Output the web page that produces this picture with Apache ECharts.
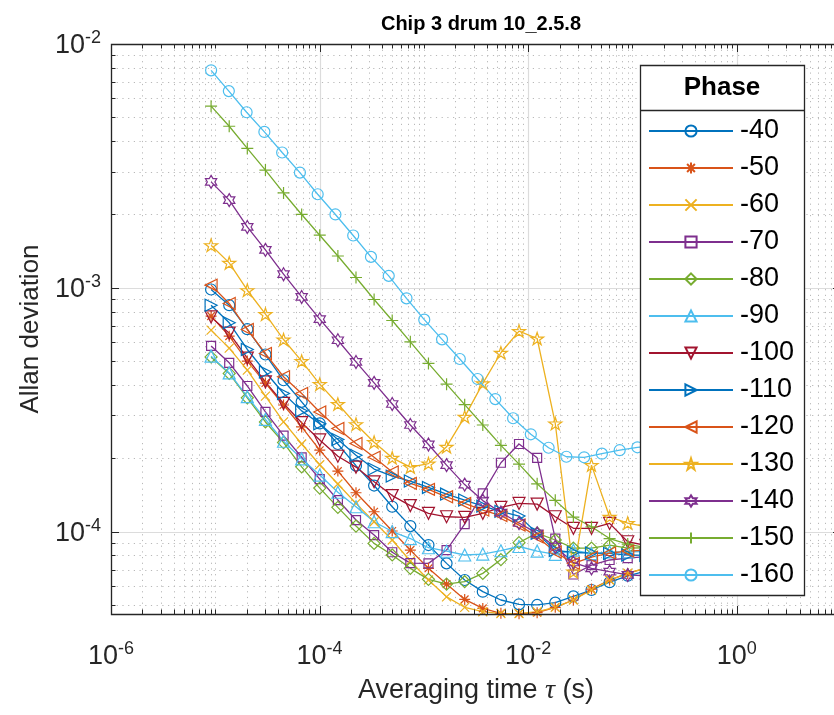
<!DOCTYPE html>
<html><head><meta charset="utf-8">
<script src="https://cdn.jsdelivr.net/npm/echarts@6/dist/echarts.min.js"></script>
<style>html,body{margin:0;padding:0;background:#fff}#c{width:834px;height:715px}</style>
</head><body><div id="c"></div>
<script>
// ---------------- data ----------------
const phases = ['-40','-50','-60','-70','-80','-90','-100','-110','-120','-130','-140','-150','-160'];

// averaging times (s)
const tauA = [9.115e-6,1.349e-5,1.997e-5,2.956e-5,4.377e-5,6.478e-5,9.59e-5,1.419e-4,2.101e-4,3.11e-4,4.605e-4,6.816e-4,1.009e-3,1.494e-3,2.211e-3,3.273e-3,4.844e-3,7.171e-3,1.061e-2,1.571e-2,2.326e-2,3.443e-2,5.096e-2,7.545e-2,0.1117,0.1653,0.2447];
const tauB = [9.115e-6,1.36e-5,2.028e-5,3.026e-5,4.513e-5,6.733e-5,1.004e-4,1.498e-4,2.235e-4,3.334e-4,4.973e-4,7.419e-4,1.107e-3,1.651e-3,2.463e-3,3.674e-3,5.481e-3,8.177e-3,1.22e-2,1.82e-2,2.715e-2,4.05e-2,6.041e-2,9.012e-2,0.1344];

const adev40  = [9.85e-4,8.49e-4,6.77e-4,5.33e-4,4.18e-4,3.41e-4,2.78e-4,2.29e-4,1.867e-4,1.547e-4,1.266e-4,1.055e-4,8.82e-5,7.42e-5,6.34e-5,5.68e-5,5.25e-5,5.04e-5,5.01e-5,5.12e-5,5.43e-5,5.77e-5,6.21e-5,6.6e-5,6.9e-5];
const adev50  = [7.66e-4,6.34e-4,5.01e-4,4.07e-4,3.31e-4,2.69e-4,2.16e-4,1.773e-4,1.445e-4,1.208e-4,1.007e-4,8.41e-5,7.08e-5,6.1e-5,5.28e-5,4.85e-5,4.63e-5,4.61e-5,4.66e-5,4.9e-5,5.25e-5,5.82e-5,6.34e-5,6.75e-5,7.1e-5];
const adev60  = [6.71e-4,5.66e-4,4.6e-4,3.6e-4,2.82e-4,2.29e-4,1.882e-4,1.569e-4,1.307e-4,1.099e-4,9.25e-5,7.59e-5,6.34e-5,5.41e-5,4.9e-5,4.7e-5,4.62e-5,4.62e-5,4.7e-5,4.9e-5,5.25e-5,5.77e-5,6.34e-5,6.77e-5,7.1e-5];
const adev70  = [5.78e-4,4.93e-4,3.96e-4,3.1e-4,2.48e-4,2.02e-4,1.644e-4,1.349e-4,1.117e-4,9.69e-5,8.24e-5,7.44e-5,7.42e-5,8.41e-5,1.075e-4,1.437e-4,1.918e-4,2.29e-4,2.01e-4,9.38e-5,6.68e-5,7.3e-5,7.66e-5,7.8e-5,7.9e-5];
const adev80  = [5.21e-4,4.46e-4,3.54e-4,2.82e-4,2.32e-4,1.846e-4,1.51e-4,1.259e-4,1.055e-4,8.96e-5,8.03e-5,7.08e-5,6.38e-5,6.1e-5,6.24e-5,6.75e-5,7.69e-5,9.02e-5,9.88e-5,9.25e-5,8.57e-5,8.57e-5,8.82e-5,8.57e-5,8.6e-5];
const adev90  = [5.25e-4,4.48e-4,3.58e-4,2.89e-4,2.35e-4,1.99e-4,1.708e-4,1.452e-4,1.266e-4,1.099e-4,1.002e-4,9.38e-5,8.6e-5,8.32e-5,8.03e-5,8.1e-5,8.36e-5,8.7e-5,8.33e-5,8.08e-5,8.4e-5,8.13e-5,8.27e-5,8.27e-5,8.3e-5];
const adev100 = [7.6e-4,6.52e-4,5.15e-4,4.12e-4,3.36e-4,2.8e-4,2.38e-4,2.04e-4,1.841e-4,1.603e-4,1.407e-4,1.28e-4,1.19e-4,1.152e-4,1.146e-4,1.19e-4,1.259e-4,1.307e-4,1.298e-4,1.152e-4,1.033e-4,1.033e-4,1.082e-4,9.1e-5,8.8e-5];
const adev110 = [8.49e-4,7.19e-4,5.59e-4,4.52e-4,3.69e-4,3.13e-4,2.77e-4,2.39e-4,2.06e-4,1.807e-4,1.691e-4,1.614e-4,1.52e-4,1.427e-4,1.349e-4,1.274e-4,1.212e-4,1.16e-4,9.85e-5,8.38e-5,8.22e-5,8.18e-5,8.15e-5,8.03e-5,8.0e-5];
const adev120 = [1.026e-3,8.63e-4,6.75e-4,5.38e-4,4.32e-4,3.69e-4,3.1e-4,2.65e-4,2.3e-4,2.02e-4,1.757e-4,1.579e-4,1.492e-4,1.391e-4,1.307e-4,1.227e-4,1.165e-4,1.065e-4,9.54e-5,8.26e-5,7.42e-5,7.87e-5,8.18e-5,8.33e-5,8.4e-5];
const adev130 = [1.496e-3,1.266e-3,9.78e-4,7.8e-4,6.14e-4,5.01e-4,4.03e-4,3.34e-4,2.76e-4,2.33e-4,2.01e-4,1.841e-4,1.903e-4,2.23e-4,2.96e-4,4.06e-4,5.42e-4,6.65e-4,6.2e-4,2.78e-4,6.86e-5,1.876e-4,1.152e-4,1.086e-4,1.05e-4];
const adev140 = [2.72e-3,2.29e-3,1.778e-3,1.431e-3,1.138e-3,9.18e-4,7.44e-4,6.1e-4,4.97e-4,4.08e-4,3.34e-4,2.74e-4,2.28e-4,1.876e-4,1.561e-4,1.342e-4,1.199e-4,1.086e-4,9.85e-5,8.68e-5,7.48e-5,7.08e-5,6.86e-5,6.65e-5,6.6e-5];
const adev150 = [5.56e-3,4.6e-3,3.73e-3,3.04e-3,2.45e-3,2.0e-3,1.644e-3,1.351e-3,1.103e-3,8.96e-4,7.35e-4,6.01e-4,4.9e-4,4.03e-4,3.32e-4,2.74e-4,2.26e-4,1.894e-4,1.573e-4,1.345e-4,1.149e-4,1.048e-4,9.38e-5,8.9e-5,8.6e-5];
const adev160 = [7.8e-3,6.41e-3,5.25e-3,4.36e-3,3.59e-3,2.97e-3,2.42e-3,2.0e-3,1.64e-3,1.34e-3,1.12e-3,9.06e-4,7.41e-4,6.15e-4,5.11e-4,4.23e-4,3.5e-4,2.92e-4,2.51e-4,2.21e-4,2.03e-4,2.02e-4,2.09e-4,2.16e-4,2.22e-4,2.26e-4,2.3e-4];

const seriesTau = [tauB,tauB,tauB,tauB,tauB,tauB,tauB,tauB,tauB,tauB,tauB,tauB,tauA];
const seriesVal = [adev40,adev50,adev60,adev70,adev80,adev90,adev100,adev110,adev120,adev130,adev140,adev150,adev160];

// tick labels (exponents of ten)
const xTickExps = [-6,-4,-2,0];
const yTickExps = [-4,-3,-2];
const xMajor = [1e-6,1e-4,1e-2,1];
const yMajor = [1e-4,1e-3,1e-2];

// ---------------- styles ----------------
const FONT = "'Liberation Sans', Arial, Helvetica, sans-serif";
const AX = '#262626';
const colors = ['#0072BD','#D95319','#EDB120','#7E2F8E','#77AC30','#4DBEEE','#A2142F','#0072BD','#D95319','#EDB120','#7E2F8E','#77AC30','#4DBEEE'];
const P_AST = 'path://M5,0 L5,10 M0,5 L10,5 M1.5,1.5 L8.5,8.5 M1.5,8.5 L8.5,1.5';
const P_X = 'path://M0,0 L10,10 M0,10 L10,0';
const P_PLUS = 'path://M5,0 L5,10 M0,5 L10,5';
const P_PENT = 'path://M5,0 L6.12,3.45 L9.76,3.45 L6.82,5.59 L7.94,9.05 L5,6.91 L2.06,9.05 L3.18,5.59 L0.24,3.45 L3.88,3.45 Z';
const P_HEX = 'path://M5,0 L6.44,2.5 L9.33,2.5 L7.89,5 L9.33,7.5 L6.44,7.5 L5,10 L3.56,7.5 L0.67,7.5 L2.11,5 L0.67,2.5 L3.56,2.5 Z';
const markers = [
  {s:'circle', z:11, r:0},
  {s:P_AST, z:11, r:0},
  {s:P_X, z:9, r:0},
  {s:'rect', z:9, r:0},
  {s:'diamond', z:12, r:0},
  {s:'triangle', z:12, r:0},
  {s:'triangle', z:12, r:180},
  {s:'triangle', z:12, r:-90},
  {s:'triangle', z:12, r:90},
  {s:P_PENT, z:13, r:0},
  {s:P_HEX, z:13, r:0},
  {s:P_PLUS, z:12, r:0},
  {s:'circle', z:11, r:0}
];

const series = phases.map((name, k) => ({
  name: name,
  type: 'line',
  data: seriesVal[k].map((v, i) => [seriesTau[k][i], v]),
  symbol: markers[k].s,
  symbolSize: markers[k].z,
  symbolRotate: markers[k].r,
  symbolKeepAspect: true,
  showAllSymbol: true,
  lineStyle: {color: colors[k], width: 1.3},
  itemStyle: {color: 'rgba(255,255,255,0)', borderColor: colors[k], borderWidth: 1.2},
  emphasis: {disabled: true},
  z: 2,
  animation: false
}));

// minor grid values (2..9 x decades, plus non-labelled decades)
const xMinor = [];
for (let e = -6; e <= 0; e++) for (let m = 1; m <= 9; m++) {
  const v = m * Math.pow(10, e);
  if (m === 1 && xMajor.some(t => Math.abs(t - v) / t < 1e-9)) continue;
  xMinor.push(v);
}
xMinor.push(10);
const yMinor = [];
for (let e = -5; e <= -3; e++) for (let m = 1; m <= 9; m++) {
  const v = m * Math.pow(10, e);
  if (v < 4.6e-5 || v > 1e-2) continue;
  if (m === 1 && yMajor.some(t => Math.abs(t - v) / t < 1e-9)) continue;
  yMinor.push(v);
}

const snap = v => Math.round(v) + 0.5;

function gridItem(params, api) {
  const cs = params.coordSys;
  const x0 = cs.x, x1 = cs.x + cs.width, y0 = cs.y, y1 = cs.y + cs.height;
  const ch = [];
  xMinor.forEach(v => { const p = snap(api.coord([v, 1e-3])[0]);
    ch.push({type:'line', shape:{x1:p, y1:y0, x2:p, y2:y1}, style:{stroke:'#b9b9b9', lineWidth:1, lineDash:[1.2,4.5]}}); });
  yMinor.forEach(v => { const p = snap(api.coord([1e-3, v])[1]);
    ch.push({type:'line', shape:{x1:x0, y1:p, x2:x1, y2:p}, style:{stroke:'#b9b9b9', lineWidth:1, lineDash:[1.2,4.5]}}); });
  xMajor.forEach(v => { const p = snap(api.coord([v, 1e-3])[0]);
    ch.push({type:'line', shape:{x1:p, y1:y0, x2:p, y2:y1}, style:{stroke:'#dcdcdc', lineWidth:1.2}}); });
  yMajor.forEach(v => { const p = snap(api.coord([1e-3, v])[1]);
    ch.push({type:'line', shape:{x1:x0, y1:p, x2:x1, y2:p}, style:{stroke:'#dcdcdc', lineWidth:1.2}}); });
  return {type:'group', children: ch};
}

function boxItem(params, api) {
  const cs = params.coordSys;
  const x0 = cs.x, x1 = cs.x + cs.width, y0 = cs.y, y1 = cs.y + cs.height;
  const ch = [];
  const st = {stroke: AX, lineWidth: 1};
  const addX = (v, len) => { const p = snap(api.coord([v, 1e-3])[0]);
    ch.push({type:'line', shape:{x1:p, y1:y1, x2:p, y2:y1 - len}, style:st});
    ch.push({type:'line', shape:{x1:p, y1:y0, x2:p, y2:y0 + len}, style:st}); };
  const addY = (v, len) => { const p = snap(api.coord([1e-3, v])[1]);
    ch.push({type:'line', shape:{x1:x0, y1:p, x2:x0 + len, y2:p}, style:st});
    ch.push({type:'line', shape:{x1:x1, y1:p, x2:x1 - len, y2:p}, style:st}); };
  xMinor.forEach(v => addX(v, 4.5));
  xMajor.forEach(v => addX(v, 8));
  yMinor.forEach(v => addY(v, 4.5));
  yMajor.forEach(v => addY(v, 8));
  ch.push({type:'rect', shape:{x: snap(x0), y: snap(y0), width: Math.round(x1 - x0), height: Math.round(y1 - y0)}, style:{fill:'none', stroke:AX, lineWidth:1.3}});
  return {type:'group', children: ch};
}

series.push({type:'custom', coordinateSystem:'cartesian2d', data:[[1e-3,1e-3]], renderItem: gridItem, silent:true, z:1, animation:false, clip:false});
series.push({type:'custom', coordinateSystem:'cartesian2d', data:[[1e-3,1e-3]], renderItem: boxItem, silent:true, z:6, animation:false, clip:false});

function expOf(v) { const l = Math.log10(v); const e = Math.round(l); return Math.abs(l - e) < 1e-6 ? e : null; }
const supRich = {
  b: {fontSize: 27, fontFamily: FONT, color: AX, lineHeight: 30, verticalAlign: 'bottom'},
  s: {fontSize: 18, fontFamily: FONT, color: AX, lineHeight: 18, verticalAlign: 'top'}
};

const option = {
  animation: false,
  backgroundColor: '#fff',
  title: {
    text: 'Chip 3 drum 10_2.5.8', left: 476, top: 9, textAlign: 'center',
    textStyle: {fontFamily: FONT, fontSize: 20, fontWeight: 'bold', color: '#000'}
  },
  grid: {left: 111, top: 44, width: 730, height: 570, containLabel: false, outerBoundsMode: 'none'},
  xAxis: {
    type: 'log', logBase: 10, min: 1e-6, max: 10,
    name: 'Averaging time {i|τ} (s)', nameLocation: 'middle', nameGap: 63,
    nameTextStyle: {fontFamily: FONT, fontSize: 27, color: AX,
      rich: {i: {fontFamily: "'Liberation Serif', 'DejaVu Serif', serif", fontStyle: 'italic', fontSize: 28, color: AX}}},
    axisLine: {show: false}, axisTick: {show: false}, splitLine: {show: false}, minorTick: {show: false},
    axisLabel: {margin: 26, rich: supRich,
      formatter: v => { const e = expOf(v); return (e !== null && xTickExps.includes(e)) ? '{b|10}{s|' + e + '}' : ''; }}
  },
  yAxis: {
    type: 'log', logBase: 10, min: 4.6e-5, max: 1e-2,
    name: 'Allan deviation', nameLocation: 'middle', nameGap: 50,
    nameTextStyle: {fontFamily: FONT, fontSize: 26, color: AX},
    axisLine: {show: false}, axisTick: {show: false}, splitLine: {show: false}, minorTick: {show: false},
    axisLabel: {margin: 10, rich: supRich,
      formatter: v => { const e = expOf(v); return (e !== null && yTickExps.includes(e)) ? '{b|10}{s|' + e + '}' : ''; }}
  },
  legend: {
    show: true, orient: 'vertical', left: 648, top: 116, padding: 0,
    itemWidth: 84, itemHeight: 14, itemGap: 7, selectedMode: false,
    textStyle: {fontFamily: FONT, fontSize: 27, lineHeight: 30, color: '#000', padding: [0, 0, 0, 2]},
    data: phases, z: 8
  },
  graphic: [
    {type: 'rect', z: 4, silent: true, shape: {x: 640.5, y: 65.5, width: 164, height: 530}, style: {fill: '#fff', stroke: AX, lineWidth: 1.3}},
    {type: 'line', z: 5, silent: true, shape: {x1: 640.5, y1: 110.5, x2: 804.5, y2: 110.5}, style: {stroke: AX, lineWidth: 1.3}},
    {type: 'text', z: 5, silent: true, x: 722, y: 88, style: {text: 'Phase', fontFamily: FONT, fontSize: 26, fontWeight: 'bold', fill: '#000', align: 'center', verticalAlign: 'middle'}}
  ],
  series: series
};

const chart = echarts.init(document.getElementById('c'), null, {renderer: 'canvas'});
chart.setOption(option);
</script>
</body></html>
